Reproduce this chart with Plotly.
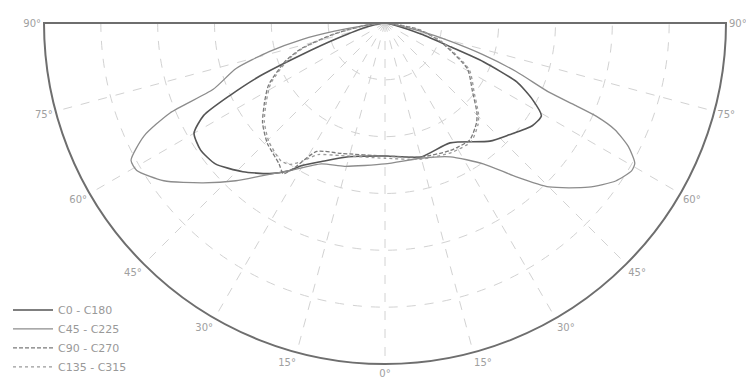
import plotly.graph_objects as go

# Photometric polar diagram (cd/klm); gamma angle: negative = left half, positive = right half
# C0 - C180 (darkest, medium-width curve)
c0_gamma = [-90, -78, -72, -69, -67, -65, -63, -60, -55.5, -50.3, -43.7, -37.5, -33, -30.2, -24.6, -15.3,
            0, 14.9, 28.5, 41.6, 48, 55.1, 59.3, 62.6, 65.9, 68.5, 70, 73, 90]
c0_r = [0, 15, 45, 81, 120, 150, 179, 194, 197, 194, 181, 167, 155, 145, 134, 122,
        117, 122, 120, 139, 147, 158, 160, 146, 127, 93, 62, 33, 0]

# C45 - C225 (widest curve)
c45_gamma = [-90, -82.7, -80.8, -78.8, -76.1, -73, -68.9, -67.3, -64.9, -61.6, -59.3, -54.5, -48.7, -43.4,
             -38.7, -33, -24.3, -15.8, 0, 14.7, 26, 34.9, 40.5, 45, 51.1, 55.6, 59.1, 60.7, 63.1, 65.1,
             66.2, 66.6, 67.1, 69.7, 72.1, 74.3, 77, 90]
c45_r = [0, 21, 45, 74, 105, 137, 162, 205, 234, 254, 254, 239, 213, 191,
         172, 155, 136, 131, 124, 123, 131, 151, 178, 204, 230, 246, 253, 252, 240, 223,
         203, 183, 157, 123, 90, 60, 32, 0]

# C90 - C270 (narrow inner curve)
c90_gamma = [-90, -84, -78, -73, -69, -62, -56.6, -50.8, -44.4, -37, -34, -32, -28, -18.5,
             0, 14.9, 27.1, 36, 42.6, 45.7, 51.8, 60.9, 71.6, 79.4, 90]
c90_r = [0, 15, 45, 77, 94, 116, 127, 139, 148, 155, 160, 150, 128, 121,
         117, 122, 126, 127, 119, 113, 98, 83, 51, 29, 0]

# C135 - C315 (nearly coincident with C90 - C270)
c135_gamma = [-90, -84, -78, -73, -69, -62, -56.6, -50.8, -44.4, -37, -34, -31, -27, -18.5,
              0, 14.9, 27.1, 36, 42.6, 45.7, 51.8, 60.9, 71.6, 79.4, 90]
c135_r = [0, 14, 43, 75, 92, 114, 125, 137, 146, 152, 150, 142, 130, 123,
          119, 124, 128, 129, 121, 115, 100, 85, 53, 30, 0]

gamma_ticks = [-90, -75, -60, -45, -30, -15, 0, 15, 30, 45, 60, 75, 90]
gamma_labels = ["90°", "75°", "60°", "45°", "30°", "15°", "0°", "15°", "30°", "45°", "60°", "75°", "90°"]
ring_values = [50, 100, 150, 200, 250, 300]
r_max = 300

OFFSET = 180  # plotly theta = gamma + 180, so all angles stay within [90, 270]


def th(gammas):
    return [g + OFFSET for g in gammas]


fig = go.Figure()

fig.add_trace(go.Scatterpolar(r=[r_max, 0, r_max], theta=th([-90, 0, 90]), mode="lines",
                              line=dict(color="#6e6e6e", width=2), showlegend=False,
                              hoverinfo="skip", cliponaxis=False))

fig.add_trace(go.Scatterpolar(r=c0_r, theta=th(c0_gamma), mode="lines", name="C0 - C180",
                              line=dict(color="#555555", width=1.6, shape="spline", smoothing=0.6)))
fig.add_trace(go.Scatterpolar(r=c45_r, theta=th(c45_gamma), mode="lines", name="C45 - C225",
                              line=dict(color="#8c8c8c", width=1.3, shape="spline", smoothing=0.6)))
fig.add_trace(go.Scatterpolar(r=c90_r, theta=th(c90_gamma), mode="lines", name="C90 - C270",
                              line=dict(color="#7a7a7a", width=1.3, dash="4px,2px", shape="spline", smoothing=0.6)))
fig.add_trace(go.Scatterpolar(r=c135_r, theta=th(c135_gamma), mode="lines", name="C135 - C315",
                              line=dict(color="#9a9a9a", width=1.3, dash="dot", shape="spline", smoothing=0.6)))

# the page body has an 8px default margin, so positions are set 8px up/left of their on-screen target
fig.update_layout(
    width=754, height=385,
    margin=dict(l=0, r=0, t=0, b=0),
    paper_bgcolor="white",
    font=dict(family="DejaVu Sans, sans-serif", size=10, color="#9a9a9a"),
    polar=dict(
        domain=dict(x=[36 / 754, 718 / 754], y=[1 - 356 / 385, 1 - 15 / 385]),
        sector=[180, 360],
        bgcolor="white",
        angularaxis=dict(rotation=90, direction="counterclockwise",
                         tickmode="array", tickvals=th(gamma_ticks), ticktext=gamma_labels,
                         ticks="", showline=True, linecolor="#6e6e6e", linewidth=2,
                         gridcolor="#d2d2d2", griddash="dash", gridwidth=1,
                         tickfont=dict(size=10, color="#a0a0a0")),
        radialaxis=dict(range=[0, r_max], tickmode="array", tickvals=ring_values,
                        showticklabels=False, ticks="", showline=False,
                        gridcolor="#d2d2d2", griddash="dash", gridwidth=1),
    ),
    showlegend=True,
    legend=dict(x=0.0, y=0.03, xanchor="left", yanchor="bottom", bgcolor="rgba(0,0,0,0)",
                font=dict(size=11, color="#999999"), tracegroupgap=0, itemwidth=40),
)

fig.write_html("out.html")
